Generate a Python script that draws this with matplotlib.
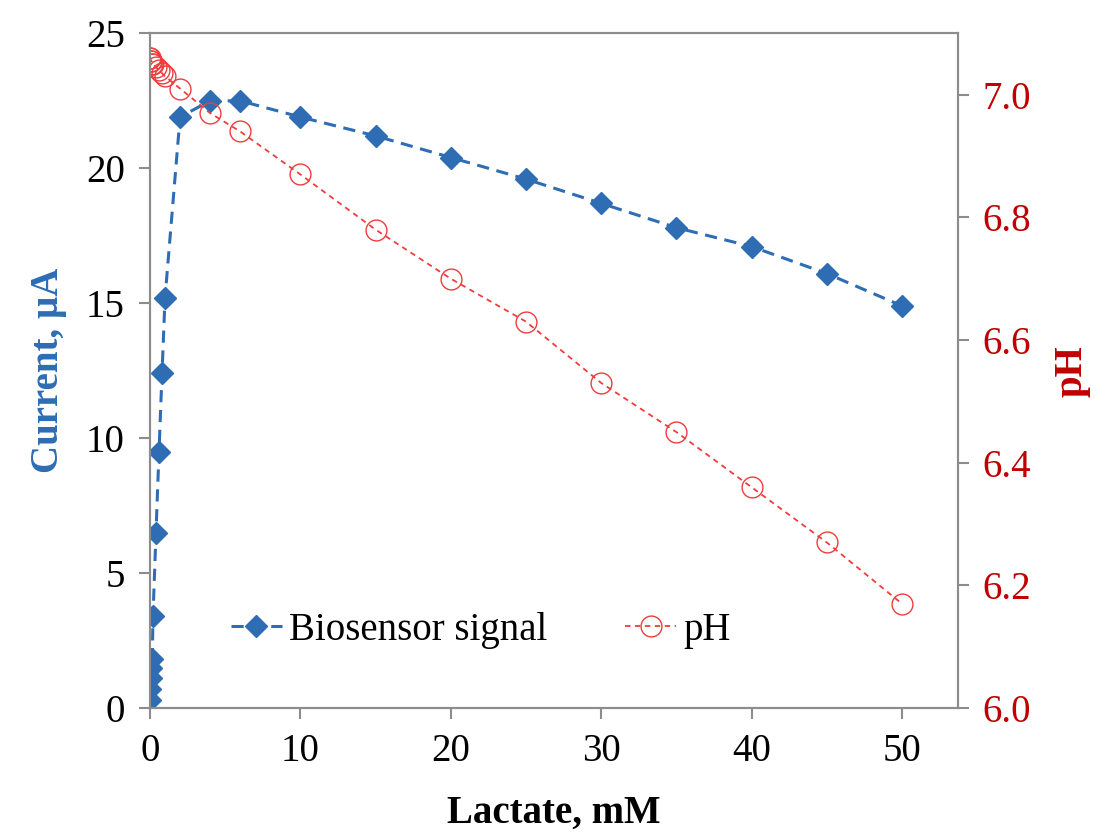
import numpy as np
import matplotlib.pyplot as plt

plt.rcParams['font.family'] = ['Liberation Serif', 'DejaVu Serif']

# lactate concentration (mM)
lactate = [0.0, 0.02, 0.05, 0.1, 0.15, 0.2, 0.4, 0.6, 0.8, 1.0,
           2, 4, 6, 10, 15, 20, 25, 30, 35, 40, 45, 50]
# biosensor signal (µA)
current = [0.3, 0.7, 1.1, 1.5, 1.8, 3.4, 6.5, 9.5, 12.4, 15.2,
           21.9, 22.5, 22.5, 21.9, 21.2, 20.4, 19.6, 18.7, 17.8, 17.1, 16.1, 14.9]
# pH of solution
ph = [7.06, 7.06, 7.055, 7.055, 7.05, 7.05, 7.045, 7.04, 7.035, 7.03,
      7.01, 6.97, 6.94, 6.87, 6.78, 6.70, 6.63, 6.53, 6.45, 6.36, 6.27, 6.17]

blue = '#2E6DB4'
red = '#F03C3C'
dark_red = '#C00000'
grey = '#8C8C8C'
fs = 28

fig, ax = plt.subplots(figsize=(11.11, 8.34), dpi=100)
ax2 = ax.twinx()

l1, = ax.plot(lactate, current, color=blue, linestyle=(0, (4, 2.5)), linewidth=2.2,
              marker='D', markersize=11, markerfacecolor=blue, markeredgecolor=blue,
              label='Biosensor signal', zorder=3)
l2, = ax2.plot(lactate, ph, color=red, linestyle=(0, (3, 2.5)), linewidth=1.3,
               marker='o', markersize=15, markerfacecolor='none', markeredgecolor=red,
               markeredgewidth=1.0, label='pH')

ax.set_xlim(0, 53.7)
ax.set_ylim(0, 25)
ax2.set_ylim(6.0, 7.1)
ax.set_xticks([0, 10, 20, 30, 40, 50])
ax.set_yticks([0, 5, 10, 15, 20, 25])
ax2.set_yticks([6.0, 6.2, 6.4, 6.6, 6.8, 7.0])
ax2.set_yticklabels(['6.0', '6.2', '6.4', '6.6', '6.8', '7.0'])

for a in (ax, ax2):
    for s in a.spines.values():
        s.set_color(grey)
        s.set_linewidth(1.5)
ax.tick_params(axis='both', labelsize=fs, color=grey, length=8, width=1.5, pad=10)
ax2.tick_params(axis='y', labelsize=fs, colors=dark_red, length=8, width=1.5, pad=10)
ax2.tick_params(axis='y', color=grey)

ax.set_xlabel('Lactate, mM', fontsize=fs, fontweight='bold', labelpad=18)
ax.set_ylabel('Current, µA', fontsize=fs, fontweight='bold', color=blue, labelpad=14)
ax2.set_ylabel('pH', fontsize=fs, fontweight='bold', color=dark_red, rotation=90, labelpad=16)

ax.legend([l1, l2], ['Biosensor signal', 'pH'], loc='center left', ncol=2,
          bbox_to_anchor=(0.057, 0.115), frameon=False, fontsize=fs,
          handlelength=1.3, columnspacing=2.0, handletextpad=0.2)

plt.subplots_adjust(left=0.135, right=0.862, top=0.96, bottom=0.151)
plt.savefig('out.png', dpi=100)
